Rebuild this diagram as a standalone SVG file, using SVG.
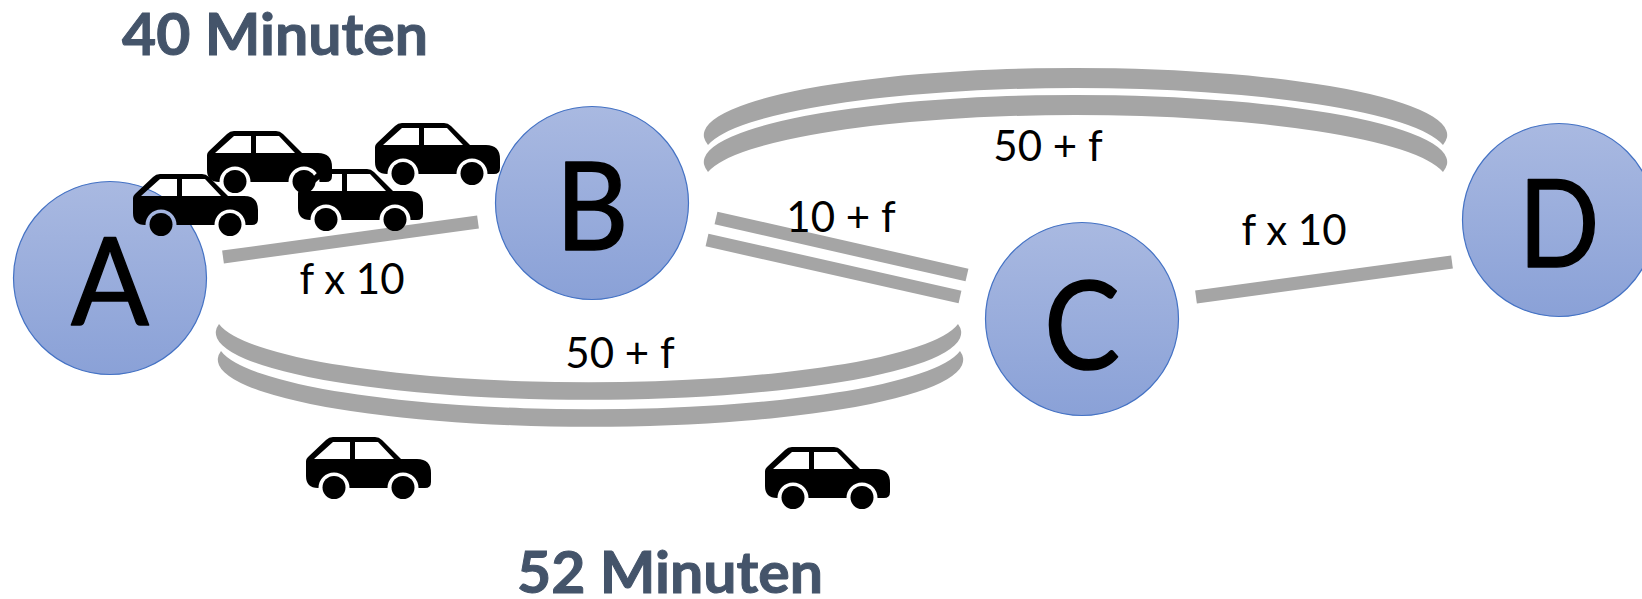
<svg xmlns="http://www.w3.org/2000/svg" width="1642" height="599" viewBox="0 0 1642 599">
<style>
.n{fill:url(#g);stroke:#4472c4;stroke-width:1.2}
.nt{font-family:Lato,"Open Sans",sans-serif;font-size:122px;fill:#000;stroke:#000;stroke-width:1.500;stroke-linejoin:round;text-anchor:middle}
.l{font-family:Lato,"Open Sans",sans-serif;font-size:42px;fill:#000;text-anchor:middle}
.t{font-family:Lato,"Open Sans",sans-serif;font-size:58px;font-weight:700;fill:#44546a;stroke:#44546a;stroke-width:1;text-anchor:middle}
.r{stroke:#a5a5a5;stroke-width:13;fill:none}
.a{fill:#a5a5a5}
</style>
<defs>
<linearGradient id="g" x1="0" y1="0" x2="0" y2="1"><stop offset="0" stop-color="#a9b9e1"/><stop offset="1" stop-color="#8aa1d7"/></linearGradient>
<g id="car">
<path d="M27 0H69Q73 0 76 3L95 22H111Q125 22 125 36V45Q125 51 119 51H112.500A15.500 15.500 0 0 0 81.500 51H43.500A15.500 15.500 0 0 0 12.500 51H12Q0 51 0 39V24Q0 22 2 20L20 3Q23 0 27 0Z M27 5L8 22H44V5Z M49 5V22H88L72 5Z" fill="#000" fill-rule="evenodd"/>
<circle cx="28" cy="50.500" r="11.500" fill="#000"/><circle cx="97" cy="50.500" r="11.500" fill="#000"/>
</g>
</defs>
<g id="connectors">
<path class="a" d="M708 145A371.700 67 0 1 1 1443 145A371.700 67 0 0 0 708 145Z"/>
<path class="a" d="M708 172A371.700 67 0 1 1 1443 172A371.700 67 0 0 0 708 172Z"/>
<path class="a" d="M219 324A372.700 67 0 1 0 958 324A372.700 67 0 0 1 219 324Z"/>
<path class="a" d="M221 351A372.700 67 0 1 0 960 351A372.700 67 0 0 1 221 351Z"/>
<line class="r" x1="223" y1="257" x2="478" y2="222"/>
<line class="r" x1="716" y1="218" x2="967" y2="275"/>
<line class="r" x1="707" y1="240" x2="960" y2="297"/>
<line class="r" x1="1196" y1="297" x2="1452" y2="262"/>
</g>
<g id="node-a"><circle class="n" cx="110" cy="278" r="96.500"/><text class="nt" x="110" y="325" textLength="78" lengthAdjust="spacingAndGlyphs">A</text></g>
<g id="node-b"><circle class="n" cx="592" cy="203" r="96.500"/><text class="nt" x="592" y="250" textLength="73" lengthAdjust="spacingAndGlyphs">B</text></g>
<g id="node-c"><circle class="n" cx="1082" cy="319" r="96.500"/><text class="nt" x="1082" y="369" textLength="76" lengthAdjust="spacingAndGlyphs">C</text></g>
<g id="node-d"><circle class="n" cx="1559" cy="220" r="96.500"/><text class="nt" x="1559" y="267" textLength="81" lengthAdjust="spacingAndGlyphs">D</text></g>
<g id="cars">
<use href="#car" x="207" y="131"/>
<use href="#car" x="133" y="174"/>
<use href="#car" x="298" y="169"/>
<use href="#car" x="375" y="123"/>
<use href="#car" x="306" y="437"/>
<use href="#car" x="765" y="447"/>
</g>
<g id="labels">
<text class="l" x="352" y="294">f x 10</text>
<text class="l" x="620" y="368">50 + f</text>
<text class="l" x="841" y="232">10 + f</text>
<text class="l" x="1048" y="161">50 + f</text>
<text class="l" x="1294" y="245">f x 10</text>
<text class="t" x="275" y="55" textLength="306" lengthAdjust="spacingAndGlyphs">40 Minuten</text>
<text class="t" x="670" y="593" textLength="306" lengthAdjust="spacingAndGlyphs">52 Minuten</text>
</g>
</svg>
